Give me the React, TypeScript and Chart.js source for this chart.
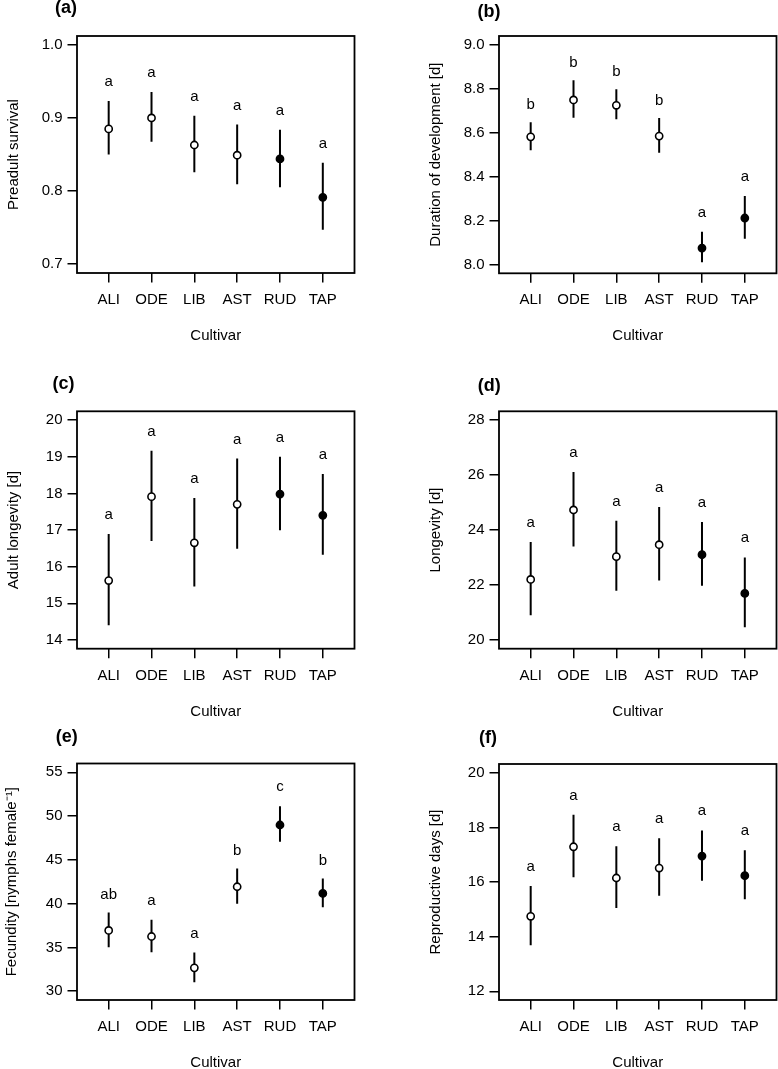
import React, { useEffect, useRef } from "react";
import { Chart, registerables } from "chart.js";
Chart.register(...registerables);

// ---------- data ----------
const categories = ["ALI", "ODE", "LIB", "AST", "RUD", "TAP"];
const filledPoint = [false, false, false, false, true, true];

const meanA = [0.885, 0.900, 0.863, 0.849, 0.844, 0.7915];
const upperA = [0.923, 0.9355, 0.903, 0.891, 0.884, 0.8386];
const lowerA = [0.850, 0.8674, 0.8258, 0.8093, 0.8052, 0.7471];
const lettersA = ["a", "a", "a", "a", "a", "a"];
const ticksA = ["0.7", "0.8", "0.9", "1.0"];

const meanB = [8.581, 8.749, 8.7245, 8.5845, 8.0746, 8.2116];
const upperB = [8.648, 8.8387, 8.7976, 8.6667, 8.149, 8.312];
const lowerB = [8.5205, 8.668, 8.6606, 8.5084, 8.0107, 8.117];
const lettersB = ["b", "b", "b", "b", "a", "a"];
const ticksB = ["8.0", "8.2", "8.4", "8.6", "8.8", "9.0"];

const meanC = [15.62, 17.91, 16.65, 17.70, 17.98, 17.40];
const upperC = [16.89, 19.16, 17.875, 18.95, 19.0, 18.53];
const lowerC = [14.40, 16.70, 15.46, 16.49, 16.99, 16.325];
const lettersC = ["a", "a", "a", "a", "a", "a"];
const ticksC = ["14", "15", "16", "17", "18", "19", "20"];

const meanD = [22.20, 24.73, 23.03, 23.465, 23.10, 21.69];
const upperD = [23.56, 26.115, 24.34, 24.84, 24.29, 23.0];
const lowerD = [20.90, 23.40, 21.79, 22.16, 21.97, 20.46];
const lettersD = ["a", "a", "a", "a", "a", "a"];
const ticksD = ["20", "22", "24", "26", "28"];

const meanE = [36.94, 36.25, 32.67, 41.93, 48.98, 41.17];
const upperE = [38.99, 38.155, 34.42, 44.02, 51.11, 42.88];
const lowerE = [35.03, 34.46, 31.03, 39.98, 47.07, 39.60];
const lettersE = ["ab", "a", "a", "b", "c", "b"];
const ticksE = ["30", "35", "40", "45", "50", "55"];

const meanF = [14.745, 17.29, 16.146, 16.51, 16.95, 16.23];
const upperF = [15.855, 18.46, 17.305, 17.60, 17.89, 17.16];
const lowerF = [13.68, 16.17, 15.05, 15.50, 16.05, 15.37];
const lettersF = ["a", "a", "a", "a", "a", "a"];
const ticksF = ["12", "14", "16", "18", "20"];

// ---------- layout (page coordinates) ----------
const FONT = "'Liberation Sans', Arial, Helvetica, sans-serif";
const FS = 15;
const LH = FS * 1.2;

type Panel = {
  label: string;
  yTitle: string;
  mean: number[];
  upper: number[];
  lower: number[];
  letters: string[];
  ticks: string[];
  canvas: { x: number; y: number; w: number; h: number };
  area: { L: number; R: number; T: number; B: number };
  yTitleX: number;
  labelPos: { x: number; y: number };
};

const panels: Panel[] = [
  {
    label: "(a)", yTitle: "Preadult survival",
    mean: meanA, upper: upperA, lower: lowerA, letters: lettersA, ticks: ticksA,
    canvas: { x: 0, y: 0, w: 389, h: 380 },
    area: { L: 77, R: 354.5, T: 36, B: 273 },
    yTitleX: 14, labelPos: { x: 66, y: 8 },
  },
  {
    label: "(b)", yTitle: "Duration of development [d]",
    mean: meanB, upper: upperB, lower: lowerB, letters: lettersB, ticks: ticksB,
    canvas: { x: 389, y: 0, w: 389, h: 380 },
    area: { L: 499, R: 776.5, T: 36, B: 273.3 },
    yTitleX: 436, labelPos: { x: 489, y: 12 },
  },
  {
    label: "(c)", yTitle: "Adult longevity [d]",
    mean: meanC, upper: upperC, lower: lowerC, letters: lettersC, ticks: ticksC,
    canvas: { x: 0, y: 350, w: 389, h: 380 },
    area: { L: 77, R: 354.5, T: 411.3, B: 648.7 },
    yTitleX: 14, labelPos: { x: 63.5, y: 384 },
  },
  {
    label: "(d)", yTitle: "Longevity [d]",
    mean: meanD, upper: upperD, lower: lowerD, letters: lettersD, ticks: ticksD,
    canvas: { x: 389, y: 350, w: 389, h: 380 },
    area: { L: 499, R: 776.5, T: 411.3, B: 648.7 },
    yTitleX: 436, labelPos: { x: 489.3, y: 385.8 },
  },
  {
    label: "(e)", yTitle: "Fecundity [nymphs female\u207B\u00B9]",
    mean: meanE, upper: upperE, lower: lowerE, letters: lettersE, ticks: ticksE,
    canvas: { x: 0, y: 700, w: 389, h: 369 },
    area: { L: 77, R: 354.5, T: 763.5, B: 1000 },
    yTitleX: 11.7, labelPos: { x: 66.7, y: 736.7 },
  },
  {
    label: "(f)", yTitle: "Reproductive days [d]",
    mean: meanF, upper: upperF, lower: lowerF, letters: lettersF, ticks: ticksF,
    canvas: { x: 389, y: 700, w: 389, h: 369 },
    area: { L: 499, R: 776.5, T: 764, B: 1000 },
    yTitleX: 436, labelPos: { x: 488, y: 738.3 },
  },
];

function makeConfig(p: Panel): any {
  const { canvas: c, area: a } = p;
  const tickVals = p.ticks.map((t) => parseFloat(t));
  const t0 = tickVals[0];
  const t1 = tickVals[tickVals.length - 1];
  const ext = (t1 - t0) * 0.04;
  const font = { family: FONT, size: FS, lineHeight: 1.2 };
  const Bl = a.B - c.y;

  const pointData = categories.map((_, i) => ({ x: i + 1, y: p.mean[i] }));
  const barSets = categories.map((_, i) => ({
    type: "line",
    data: [
      { x: i + 1, y: p.lower[i] },
      { x: i + 1, y: p.upper[i] },
    ],
    borderColor: "#000",
    borderWidth: 2,
    pointRadius: 0,
    showLine: true,
    fill: false,
    order: 2,
  }));

  const decor = {
    id: "decor" + p.label,
    afterDatasetsDraw(chart: any) {
      const ctx = chart.ctx;
      const ca = chart.chartArea;
      const xs = chart.scales.x;
      const ys = chart.scales.y;
      ctx.save();
      // box
      ctx.strokeStyle = "#000";
      ctx.lineWidth = 1.8;
      ctx.strokeRect(ca.left, ca.top, ca.right - ca.left, ca.bottom - ca.top);
      // group letters
      ctx.fillStyle = "#000";
      ctx.font = `${FS}px ${FONT}`;
      ctx.textAlign = "center";
      ctx.textBaseline = "alphabetic";
      p.letters.forEach((s, i) => {
        const px = xs.getPixelForValue(i + 1);
        const py = ys.getPixelForValue(p.upper[i]) - 19;
        const m = ctx.measureText(s);
        const yb = py + (m.actualBoundingBoxAscent - m.actualBoundingBoxDescent) / 2;
        ctx.fillText(s, px, yb);
      });
      // panel label
      ctx.font = `bold 18px ${FONT}`;
      ctx.textBaseline = "middle";
      ctx.fillText(p.label, p.labelPos.x - c.x, p.labelPos.y - c.y);
      ctx.restore();
    },
  };

  return {
    type: "scatter",
    data: {
      datasets: [
        {
          data: pointData,
          pointRadius: 3.6,
          pointBorderWidth: 1.6,
          pointBorderColor: "#000",
          pointBackgroundColor: filledPoint.map((f) => (f ? "#000" : "#fff")),
          showLine: false,
          order: 1,
        },
        ...barSets,
      ],
    },
    options: {
      animation: false,
      responsive: false,
      devicePixelRatio: 1,
      events: [],
      layout: {
        autoPadding: false,
        padding: { left: 0, top: a.T - c.y, right: c.x + c.w - a.R, bottom: 0 },
      },
      plugins: { legend: { display: false }, tooltip: { enabled: false } },
      scales: {
        x: {
          type: "linear",
          min: 0.26,
          max: 6.74,
          afterBuildTicks: (s: any) => {
            s.ticks = categories.map((_, i) => ({ value: i + 1 }));
          },
          afterFit: (s: any) => {
            s.height = c.h - Bl;
          },
          ticks: {
            callback: (v: number) => categories[Math.round(v) - 1],
            font,
            color: "#000",
            padding: 8.5,
            maxRotation: 0,
            autoSkip: false,
          },
          grid: {
            display: true,
            drawOnChartArea: false,
            drawTicks: true,
            tickLength: 9.5,
            color: "#000",
            lineWidth: 1.5,
          },
          border: { display: false },
          title: {
            display: true,
            text: "Cultivar",
            font,
            color: "#000",
            padding: { top: 0, bottom: c.h - Bl - 62.7 - LH / 2 },
          },
        },
        y: {
          type: "linear",
          min: t0 - ext,
          max: t1 + ext,
          afterBuildTicks: (s: any) => {
            s.ticks = tickVals.map((v) => ({ value: v }));
          },
          afterFit: (s: any) => {
            s.width = a.L - c.x;
          },
          ticks: {
            callback: (_v: number, i: number) => p.ticks[i],
            font,
            color: "#000",
            padding: 5,
            autoSkip: false,
          },
          grid: {
            display: true,
            drawOnChartArea: false,
            drawTicks: true,
            tickLength: 9.5,
            color: "#000",
            lineWidth: 1.5,
          },
          border: { display: false },
          title: {
            display: true,
            text: p.yTitle,
            font,
            color: "#000",
            padding: { top: p.yTitleX - c.x - LH / 2, bottom: 0 },
          },
        },
      },
    },
    plugins: [decor],
  };
}

export default function App() {
  const refs = useRef<(HTMLCanvasElement | null)[]>([]);

  useEffect(() => {
    const charts = panels.map((p, i) => {
      const cv = refs.current[i]!;
      return new Chart(cv, makeConfig(p));
    });
    return () => charts.forEach((ch) => ch.destroy());
  }, []);

  return (
    <div
      style={{
        position: "absolute",
        left: 0,
        top: 0,
        width: 778,
        height: 1069,
        background: "#fff",
        overflow: "hidden",
      }}
    >
      {panels.map((p, i) => (
        <canvas
          key={p.label}
          ref={(el) => {
            refs.current[i] = el;
          }}
          width={p.canvas.w}
          height={p.canvas.h}
          style={{
            position: "absolute",
            left: p.canvas.x,
            top: p.canvas.y,
            width: p.canvas.w,
            height: p.canvas.h,
          }}
        />
      ))}
    </div>
  );
}
